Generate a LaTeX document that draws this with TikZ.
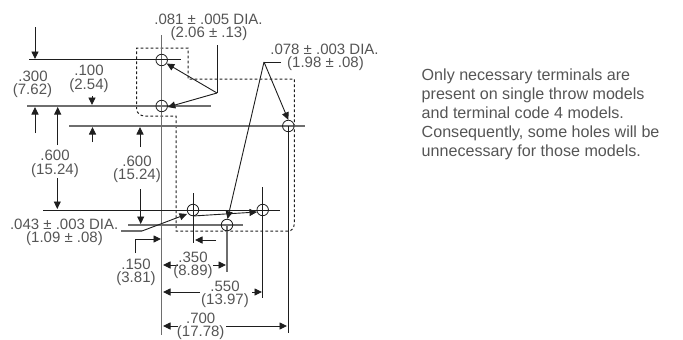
\documentclass[tikz,border=0pt]{standalone}
\usepackage{fontspec}
\setmainfont{Liberation Sans}
\usetikzlibrary{arrows.meta}
\definecolor{txt}{HTML}{555555}
\definecolor{ln}{HTML}{1E1E1E}
\definecolor{gl}{HTML}{6E6E6E}
\tikzset{
  dark/.style={draw=ln,line width=0.9pt},
  greyl/.style={draw=gl,line width=1.1pt},
  arr/.style={dark,-{Triangle[length=7.5pt,width=7pt]}},
  hole/.style={circle,draw=ln,line width=0.8pt,minimum size=11.5pt,inner sep=0pt},
  lab/.style={text=txt,font=\fontsize{15}{17}\selectfont,align=center,inner sep=0pt},
  dots/.style={draw=ln,line width=1pt,dash pattern=on 2.6pt off 2.4pt},
}
\begin{document}
\begin{tikzpicture}[x=1pt,y=-1pt]
\useasboundingbox (0,0) rectangle (683,340);
% holes
\coordinate (c1) at (161.7,60);
\coordinate (c2) at (161.7,106);
\coordinate (c3) at (288.3,126);
\coordinate (c4) at (193,210);
\coordinate (c5) at (227,225);
\coordinate (c6) at (262.7,210);
% outline
\draw[dots] (136.7,109) -- (136.7,48) -- (188,48) -- (188,79) -- (294.3,79) -- (294.3,223)
  .. controls (294.3,228) and (292,231) .. (288,231) -- (176,231) -- (176,116) -- (145,116)
  .. controls (140,116) and (136.7,113) .. (136.7,109);
% extension lines
\coordinate (v0) at (161.7,35); \coordinate (v1) at (161.7,335);
\draw[greyl] (v0) -- (v1);
\coordinate (h1a) at (29,59.5); \coordinate (h1b) at (181,59.5);
\draw[dark] (h1a) -- (h1b);
\coordinate (h2a) at (27,106); \coordinate (h2b) at (211,106);
\draw[greyl] (h2a) -- (h2b);
\coordinate (h3a) at (69,126); \coordinate (h3b) at (305,126);
\draw[greyl] (h3a) -- (h3b);
\coordinate (h4a) at (43,210); \coordinate (h4b) at (280,210);
\draw[dark] (h4a) -- (h4b);
\coordinate (h5a) at (128,225); \coordinate (h5b) at (243,225);
\draw[greyl] (h5a) -- (h5b);
\coordinate (v3b) at (288.3,333);
\draw[dark] (c3) -- (v3b);
\coordinate (v4a) at (193,193); \coordinate (v4b) at (193,243);
\draw[dark] (v4a) -- (v4b);
\coordinate (v5b) at (227,272);
\draw[greyl] (c5) -- (v5b);
\coordinate (v6a) at (262.7,187); \coordinate (v6b) at (262.7,298);
\draw[dark] (v6a) -- (v6b);
% hole nodes
\foreach \n in {1,...,6} \node[hole] (h\n) at (c\n) {};
% vertical dimension arrows
\coordinate (a1) at (35,27); \coordinate (a1e) at (35,59);
\draw[arr] (a1) -- (a1e);
\coordinate (a2) at (35,133); \coordinate (a2e) at (35,107);
\draw[arr] (a2) -- (a2e);
\coordinate (a3) at (57.7,145); \coordinate (a3e) at (57.7,107);
\draw[arr] (a3) -- (a3e);
\coordinate (a4) at (92,96); \coordinate (a4e) at (92,105);
\draw[arr] (a4) -- (a4e);
\coordinate (a5) at (92.5,142); \coordinate (a5e) at (92.5,127);
\draw[arr] (a5) -- (a5e);
\coordinate (a6) at (140,147); \coordinate (a6e) at (140,127);
\draw[arr] (a6) -- (a6e);
\coordinate (a7) at (57.3,178); \coordinate (a7e) at (57.3,209);
\draw[arr] (a7) -- (a7e);
\coordinate (a8) at (140.7,189); \coordinate (a8e) at (140.7,224);
\draw[arr] (a8) -- (a8e);
% leaders
\coordinate (l1) at (217,45); \coordinate (l1k) at (217,93);
\draw[dark] (l1) -- (l1k);
\draw[arr] (l1k) -- (h1.-35);
\draw[arr] (l1k) -- (h2.-10);
\coordinate (l2) at (281,62); \coordinate (l2k) at (264,62);
\draw[dark] (l2) -- (l2k);
\draw[arr] (l2k) -- (h3.north);
\draw[arr] (l2k) -- (h5.85);
\coordinate (l3) at (121,231); \coordinate (l3k) at (142,231);
\coordinate (l3e) at (187,214);
\draw[greyl] (l3) -- (l3k);
\draw[arr] (l3k) -- (l3e);
\coordinate (l4) at (193,216); \coordinate (l4e) at (257,212);
\draw[arr] (l4) -- (l4e);
\coordinate (l5) at (135.7,253); \coordinate (l5k) at (135.7,239); \coordinate (l5e) at (161,239);
\draw[arr] (l5) -- (l5k) -- (l5e);
\coordinate (a9) at (216,240); \coordinate (a9e) at (195,240);
\draw[arr] (a9) -- (a9e);
% horizontal dims
\coordinate (d1) at (178,265); \coordinate (d1e) at (163,265);
\draw[arr] (d1) -- (d1e);
\coordinate (d2) at (213,265); \coordinate (d2e) at (226,265);
\draw[arr] (d2) -- (d2e);
\coordinate (d3) at (200,292); \coordinate (d3e) at (163,292);
\draw[arr] (d3) -- (d3e);
\coordinate (d4) at (252,292); \coordinate (d4e) at (262,292);
\draw[arr] (d4) -- (d4e);
\coordinate (d5) at (178,326); \coordinate (d5e) at (163,326);
\draw[arr] (d5) -- (d5e);
\coordinate (d6) at (226,326); \coordinate (d6e) at (287,326);
\draw[arr] (d6) -- (d6e);
% labels
\node[lab] (t1) at (208.5,19) {.081 ± .005 DIA.};
\node[lab] (t1b) at (209,34) {(2.06 ± .13)};
\node[lab] (t2) at (324.5,49) {.078 ± .003 DIA.};
\node[lab,anchor=west] (t2b) at (287,64) {(1.98 ± .08)};
\node[lab] (t3) at (33,76) {.300};
\node[lab] (t3b) at (32.5,91) {(7.62)};
\node[lab] (t4) at (89,70) {.100};
\node[lab] (t4b) at (89,86) {(2.54)};
\node[lab] (t5) at (55,155) {.600};
\node[lab] (t5b) at (55,171) {(15.24)};
\node[lab] (t6) at (137,161) {.600};
\node[lab] (t6b) at (137,176) {(15.24)};
\node[lab,anchor=east] (t7) at (118.5,224) {.043 ± .003 DIA.};
\node[lab] (t7b) at (64.5,239) {(1.09 ± .08)};
\node[lab] (t8) at (136,264) {.150};
\node[lab] (t8b) at (136,279) {(3.81)};
\node[lab] (t9) at (193,257) {.350};
\node[lab] (t9b) at (193,272) {(8.89)};
\node[lab] (t10) at (225,286) {.550};
\node[lab] (t10b) at (225,301) {(13.97)};
\node[lab] (t11) at (200.7,318) {.700};
\node[lab] (t11b) at (200.7,333) {(17.78)};
\node[lab,anchor=north west,align=left,font=\fontsize{16.1}{19}\selectfont] (para) at (421.5,68.5) {Only necessary terminals are\\present on single throw models\\and terminal code 4 models.\\Consequently, some holes will be\\unnecessary for those models.};
\end{tikzpicture}
\end{document}
